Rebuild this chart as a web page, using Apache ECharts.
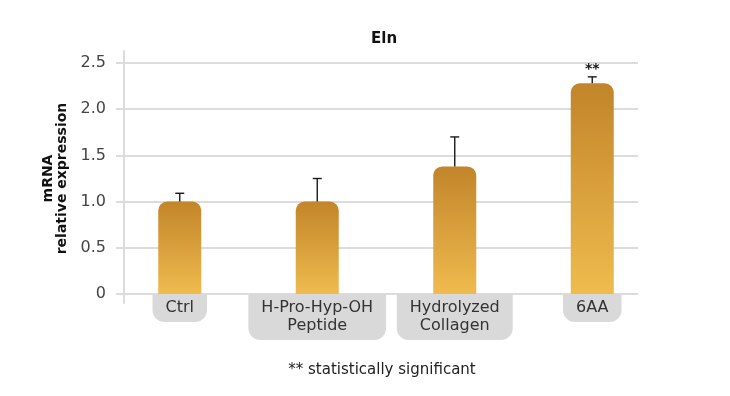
<!DOCTYPE html>
<html>
<head>
<meta charset="utf-8">
<script src="https://cdn.jsdelivr.net/npm/echarts@6/dist/echarts.min.js"></script>
<style>
  html, body { margin: 0; padding: 0; background: #fff; }
  #main { width: 730px; height: 396px; }
</style>
</head>
<body>
<div id="main"></div>
<script>
// 数据
var categories = ['Ctrl', 'H-Pro-Hyp-OH\nPeptide', 'Hydrolyzed\nCollagen', '6AA'];
var values = [1.0, 1.0, 1.38, 2.28];
var errors = [0.09, 0.25, 0.32, 0.07];   // upper error bar
var sigMarks = ['', '', '', '**'];

var FONT = 'DejaVu Sans';
var chart = echarts.init(document.getElementById('main'));

var errData = values.map(function (v, i) { return [i, v, errors[i]]; });

option = {
    backgroundColor: '#fff',
    animation: false,
    title: {
        text: 'Eln',
        left: 366,
        top: 27,
        textStyle: { fontFamily: FONT, fontSize: 15, fontWeight: 'bold', color: '#111' }
    },
    graphic: [{
        type: 'text',
        x: 382,
        y: 370,
        style: {
            text: '** statistically significant',
            align: 'center', verticalAlign: 'middle',
            fontFamily: FONT, fontSize: 15, fill: '#222'
        }
    }],
    grid: [
        // gridlines
        { left: 116, right: 92, top: 63, bottom: 102 },
        // bars
        { left: 111, right: 69, top: 63, bottom: 102 },
        // vertical axis line
        { left: 124, right: 92, top: 51, bottom: 93 }
    ],
    xAxis: [
        { gridIndex: 0, type: 'category', data: categories, show: false },
        {
            gridIndex: 1,
            type: 'category',
            data: categories,
            axisLine: { show: false },
            axisTick: { show: false },
            axisLabel: {
                margin: 0,
                interval: 0,
                fontFamily: FONT,
                fontSize: 16,
                lineHeight: 18,
                color: '#333',
                backgroundColor: '#d9d9d9',
                padding: [5, 13, 5, 13],
                borderRadius: [0, 0, 12, 12]
            }
        },
        { gridIndex: 2, type: 'category', data: categories, show: false }
    ],
    yAxis: [
        {
            gridIndex: 0,
            type: 'value',
            min: 0,
            max: 2.5,
            interval: 0.5,
            axisLine: { show: false },
            axisTick: { show: false },
            splitLine: { lineStyle: { color: '#dcdcdc', width: 2 } },
            axisLabel: {
                margin: 10,
                fontFamily: FONT,
                fontSize: 16,
                color: '#444',
                formatter: function (v) { return v === 0 ? '0' : v.toFixed(1); }
            },
            name: 'mRNA\nrelative expression',
            nameLocation: 'middle',
            nameRotate: 90,
            nameGap: 44,
            nameTextStyle: { fontFamily: FONT, fontSize: 14, fontWeight: 'bold', color: '#111', lineHeight: 14 }
        },
        { gridIndex: 1, type: 'value', min: 0, max: 2.5, show: false },
        {
            gridIndex: 2,
            type: 'value',
            min: 0,
            max: 1,
            axisLine: { show: true, lineStyle: { color: '#dcdcdc', width: 2 } },
            axisTick: { show: false },
            axisLabel: { show: false },
            splitLine: { show: false }
        }
    ],
    series: [
        {
            name: 'Eln',
            type: 'bar',
            xAxisIndex: 1,
            yAxisIndex: 1,
            barWidth: 43,
            data: values,
            itemStyle: {
                borderRadius: [9, 9, 0, 0],
                color: new echarts.graphic.LinearGradient(0, 0, 0, 1, [
                    { offset: 0, color: '#c2852a' },
                    { offset: 1, color: '#efbb4e' }
                ])
            }
        },
        {
            name: 'error',
            type: 'custom',
            xAxisIndex: 1,
            yAxisIndex: 1,
            data: errData,
            z: 5,
            renderItem: function (params, api) {
                var i = api.value(0);
                var base = api.coord([i, api.value(1)]);
                var top = api.coord([i, api.value(1) + api.value(2)]);
                var children = [
                    { type: 'line', shape: { x1: base[0], y1: base[1], x2: top[0], y2: top[1] },
                      style: { stroke: '#1a1a1a', lineWidth: 1.4 } },
                    { type: 'line', shape: { x1: top[0] - 4.5, y1: top[1], x2: top[0] + 4.5, y2: top[1] },
                      style: { stroke: '#1a1a1a', lineWidth: 1.4 } }
                ];
                if (sigMarks[i]) {
                    children.push({
                        type: 'text',
                        style: {
                            x: top[0], y: top[1] - 1,
                            text: sigMarks[i],
                            align: 'center', verticalAlign: 'bottom',
                            fontFamily: FONT, fontSize: 14, fontWeight: 'bold', fill: '#111'
                        }
                    });
                }
                return { type: 'group', children: children };
            }
        }
    ]
};
chart.setOption(option);
</script>
</body>
</html>
